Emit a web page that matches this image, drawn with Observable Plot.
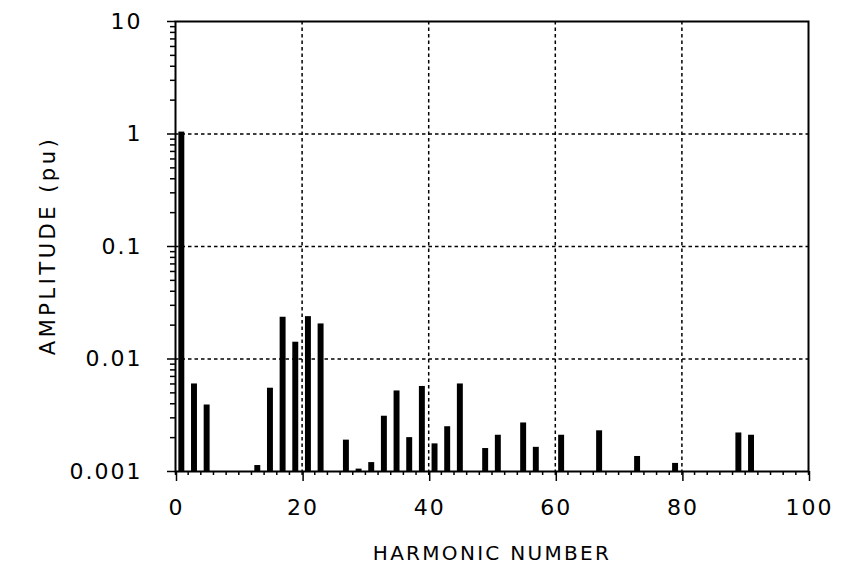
<!DOCTYPE html>
<html>
<head>
<meta charset="utf-8">
<script src="https://cdn.jsdelivr.net/npm/d3@7"></script>
<script src="https://cdn.jsdelivr.net/npm/@observablehq/plot@0.6"></script>
<style>
  html, body { margin: 0; padding: 0; background: white; }
</style>
</head>
<body>
<div id="chart"></div>
<script>
const harmonics = [1, 3, 5, 13, 15, 17, 19, 21, 23, 27, 29, 31, 33, 35, 37, 39, 41, 43, 45, 49, 51, 55, 57, 61, 67, 73, 79, 89, 91];
const amplitudes = [1.04, 0.0060, 0.0039, 0.00113, 0.0055, 0.0235, 0.0141, 0.0238, 0.0205, 0.0019, 0.00105, 0.0012, 0.0031, 0.0052, 0.0020, 0.0057, 0.00176, 0.0025, 0.0060, 0.0016, 0.0021, 0.0027, 0.00164, 0.0021, 0.0023, 0.00136, 0.00118, 0.0022, 0.0021];
const yTickValues = [10, 1, 0.1, 0.01, 0.001];
const yTickLabels = ["10", "1", "0.1", "0.01", "0.001"];
const xTickValues = [0, 20, 40, 60, 80, 100];
const xTickLabels = ["0", "20", "40", "60", "80", "100"];
const yGrid = [1, 0.1, 0.01];
const xGrid = [20, 40, 60, 80];
const xLabel = "HARMONIC NUMBER";
const yLabel = "AMPLITUDE (pu)";

const data = harmonics.map((h, i) => ({h, a: amplitudes[i]}));
const yMinor = [];
for (let e = -3; e < 1; e++) for (let m = 2; m <= 9; m++) yMinor.push(m * Math.pow(10, e));
const xMinor = d3.range(0, 101, 2);

const chart = Plot.plot({
  width: 846,
  height: 566,
  marginLeft: 175,
  marginRight: 38,
  marginTop: 21,
  marginBottom: 95,
  x: {domain: [0, 100]},
  y: {type: "log", domain: [0.001, 10]},
  style: {fontFamily: "'DejaVu Sans', sans-serif", fontSize: "22px", color: "black", background: "white"},
  marks: [
    Plot.ruleY(yGrid, {stroke: "black", strokeWidth: 1.5, strokeDasharray: "3.5,3"}),
    Plot.ruleX(xGrid, {stroke: "black", strokeWidth: 1.5, strokeDasharray: "3.5,3"}),
    Plot.rect(data, {x1: d => d.h - 0.47, x2: d => d.h + 0.47, y1: 0.001, y2: "a", fill: "black"}),
    Plot.axisY({ticks: yMinor, tickSize: 5, tickFormat: () => "", label: null, strokeWidth: 1.5}),
    Plot.axisY({ticks: yTickValues, tickSize: 8, tickPadding: 25, strokeWidth: 1.5, fontSize: 22,
      tickFormat: d => yTickLabels[yTickValues.indexOf(d)], label: null}),
    Plot.axisX({ticks: xMinor, tickSize: 4, tickFormat: () => "", label: null, strokeWidth: 1.5}),
    Plot.axisX({ticks: xTickValues, tickSize: 10, tickPadding: 18, strokeWidth: 1.5, fontSize: 22, dx: 1,
      tickFormat: d => xTickLabels[xTickValues.indexOf(d)], label: null}),
    Plot.text([xLabel], {frameAnchor: "bottom", dy: 88, lineAnchor: "bottom", fontSize: 20}),
    Plot.text([yLabel], {frameAnchor: "left", rotate: -90, textAnchor: "middle", lineAnchor: "top", dx: -135, dy: -1, fontSize: 21}),
    Plot.frame({stroke: "black", strokeWidth: 2})
  ]
});
chart.querySelectorAll("text").forEach(t => {
  const s = t.textContent;
  t.style.letterSpacing = s === xLabel ? "2.3px" : s === yLabel ? "3.5px" : "2px";
});
document.getElementById("chart").appendChild(chart);
</script>
</body>
</html>
